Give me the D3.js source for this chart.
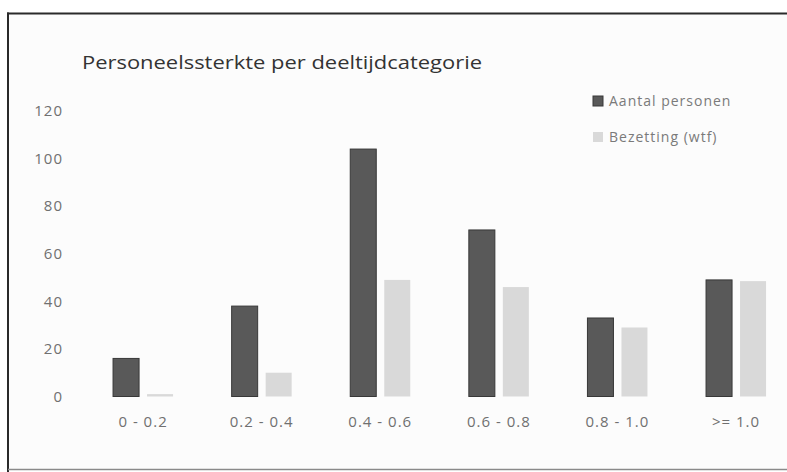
<!DOCTYPE html>
<html>
<head>
<meta charset="utf-8">
<script src="https://cdn.jsdelivr.net/npm/d3@7"></script>
<style>
  html, body { margin: 0; padding: 0; background: #ffffff; }
  svg { display: block; }
</style>
</head>
<body>
<svg id="chart" width="787" height="472"></svg>
<script>
const categories = ["0 - 0.2", "0.2 - 0.4", "0.4 - 0.6", "0.6 - 0.8", "0.8 - 1.0", ">= 1.0"];
const seriesNames = ["Aantal personen", "Bezetting (wtf)"];
const aantalPersonen = [16, 38, 104, 70, 33, 49];
const bezetting = [1, 10, 49, 46, 29, 48.5];
const yTicks = [0, 20, 40, 60, 80, 100, 120];
const titleText = "Personeelssterkte per deeltijdcategorie";

const colors = { "Aantal personen": "#595959", "Bezetting (wtf)": "#d9d9d9" };
const strokes = { "Aantal personen": "#383838", "Bezetting (wtf)": "none" };

const svg = d3.select("#chart");
const W = 787, H = 472;

// background / frame
svg.append("rect").attr("x", 0).attr("y", 0).attr("width", W).attr("height", H).attr("fill", "#ffffff");
svg.append("rect").attr("x", 9).attr("y", 14).attr("width", W - 9).attr("height", 455).attr("fill", "#fcfcfc");
svg.append("line").attr("x1", 7).attr("x2", W).attr("y1", 13.5).attr("y2", 13.5)
  .attr("stroke", "#2a2a2a").attr("stroke-width", 2);
svg.append("line").attr("x1", 8).attr("x2", 8).attr("y1", 12.5).attr("y2", H)
  .attr("stroke", "#2a2a2a").attr("stroke-width", 2);
svg.append("line").attr("x1", 8).attr("x2", W).attr("y1", 469.5).attr("y2", 469.5)
  .attr("stroke", "#8a8a8a").attr("stroke-width", 1.5);

// scales
const x0 = d3.scaleBand().domain(categories).range([83.4, 795.7]).paddingInner(0.494).paddingOuter(0.25);
const x1 = d3.scaleBand().domain(seriesNames).range([0, x0.bandwidth()]).paddingInner(0.235);
const y = d3.scaleLinear().domain([0, 120]).range([396.5, 111]);

// title
svg.append("text")
  .attr("x", 82).attr("y", 69)
  .attr("font-family", "Open Sans, sans-serif").attr("font-size", 19)
  .attr("fill", "#333")
  .attr("textLength", 400).attr("lengthAdjust", "spacingAndGlyphs")
  .text(titleText);

// y axis
const yAxis = d3.axisLeft(y).tickValues(yTicks).tickSize(0).tickPadding(0);
const gy = svg.append("g").attr("transform", "translate(63,0)").call(yAxis);
gy.select(".domain").remove();
gy.selectAll("text")
  .attr("font-family", "Open Sans, sans-serif").attr("font-size", 15)
  .attr("letter-spacing", "1px")
  .attr("fill", "#707070");

// x axis
const xAxis = d3.axisBottom(x0).tickSize(0).tickPadding(0);
const gx = svg.append("g").attr("transform", "translate(0,416)").call(xAxis);
gx.select(".domain").remove();
gx.selectAll("text")
  .attr("font-family", "Open Sans, sans-serif").attr("font-size", 15)
  .attr("letter-spacing", "1px")
  .attr("fill", "#707070");

// bars
const rows = categories.map((c, i) => ({ cat: c, vals: [
  { name: seriesNames[0], v: aantalPersonen[i] },
  { name: seriesNames[1], v: bezetting[i] }
]}));

const groups = svg.append("g").selectAll("g").data(rows).join("g")
  .attr("transform", d => `translate(${x0(d.cat)},0)`);
groups.selectAll("rect").data(d => d.vals).join("rect")
  .attr("x", d => x1(d.name))
  .attr("width", x1.bandwidth())
  .attr("y", d => y(d.v))
  .attr("height", d => y(0) - y(d.v))
  .attr("fill", d => colors[d.name])
  .attr("stroke", d => strokes[d.name])
  .attr("stroke-width", 1);

// legend
const legend = svg.append("g").selectAll("g").data(seriesNames).join("g")
  .attr("transform", (d, i) => `translate(593,${101 + i * 36})`);
legend.append("rect")
  .attr("x", 0).attr("y", -5).attr("width", 10).attr("height", 10)
  .attr("fill", d => colors[d])
  .attr("stroke", d => strokes[d]);
legend.append("text")
  .attr("x", 16).attr("y", 0).attr("dy", "0.35em")
  .attr("font-family", "Open Sans, sans-serif").attr("font-size", 14)
  .attr("letter-spacing", "1px")
  .attr("fill", "#7a7a7a")
  .text(d => d);
</script>
</body>
</html>
